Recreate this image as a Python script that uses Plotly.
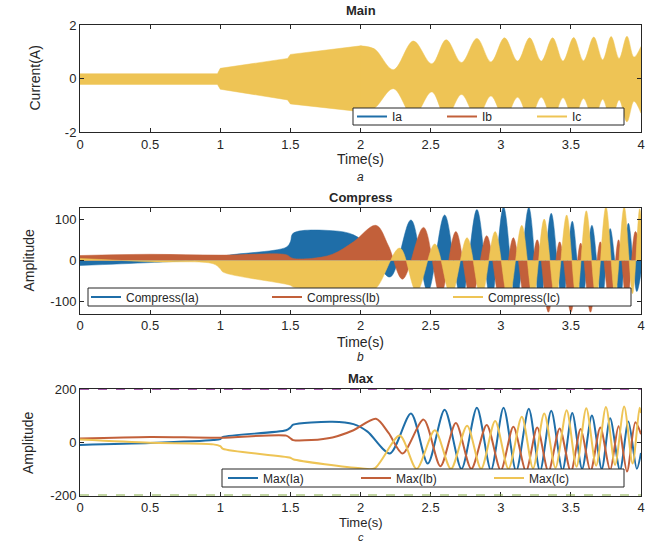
import plotly.graph_objects as go

# ---------------- data ----------------
time_ticks = [0, 0.5, 1, 1.5, 2, 2.5, 3, 3.5, 4]
time_labels = ["0", "0.5", "1", "1.5", "2", "2.5", "3", "3.5", "4"]

# Panel a: envelope of the three phase currents (A)
env_t = [0, 0.98, 1.0, 1.48, 1.5, 2.0, 2.1, 2.234, 2.377, 2.508, 2.611, 2.72, 2.83, 2.93,
         3.027, 3.12, 3.206, 3.289, 3.37, 3.444, 3.52, 3.59, 3.663, 3.727, 3.787, 3.844,
         3.90, 3.95, 4.0]
env_upper = [0.18, 0.18, 0.38, 0.75, 0.9, 1.22, 1.1, 0.33, 1.4, 0.55, 1.45, 0.6, 1.5, 0.62,
             1.52, 0.65, 1.52, 0.65, 1.52, 0.65, 1.53, 0.66, 1.55, 0.7, 1.57, 0.75,
             1.58, 0.8, 1.2]
env_lower = [-0.22, -0.22, -0.4, -0.8, -0.95, -1.24, -1.1, -0.38, -1.42, -0.5, -1.48, -0.6, -1.5, -0.65,
             -1.52, -0.7, -1.52, -0.7, -1.53, -0.72, -1.55, -0.75, -1.57, -0.78, -1.6, -0.8,
             -1.62, -0.85, -1.3]
env_split = 5  # index of t = 2.0 : steady ramp before, beating after

# Phase A time knots and values
ia_t = [0, 0.5, 0.95, 1.0, 1.02, 1.47, 1.5, 1.52, 1.8, 1.95, 2.05, 2.21, 2.36, 2.48, 2.60, 2.72,
        2.83, 2.93, 3.02, 3.11, 3.20, 3.28, 3.36, 3.44, 3.51, 3.58, 3.65, 3.72, 3.78, 3.85,
        3.91, 3.97, 4.0]
max_ia = [-10, -3, 8, 12, 20, 45, 55, 66, 77, 68, 40, -42, 108, -80, 122, -100,
          130, -105, 130, -108, 126, -108, 118, -105, 110, -100, 100, -100, 90, -105,
          78, -100, -40]
comp_ia = [-12, -5, 3, 5, 10, 32, 45, 66, 72, 62, 35, -40, 98, -75, 110, -95,
           123, -100, 129, -105, 128, -108, 114, -105, 95, -100, 85, -100, 77, -95,
           90, -75, -30]

# Phase B
ib_t = [0, 0.5, 1.0, 1.47, 1.5, 1.52, 1.65, 1.8, 1.95, 2.11, 2.20, 2.30, 2.45, 2.57, 2.68,
        2.79, 2.90, 3.00, 3.09, 3.18, 3.26, 3.34, 3.42, 3.50, 3.57, 3.64, 3.71, 3.78, 3.84,
        3.90, 3.96, 4.0]
max_ib = [14, 20, 17, 25, 15, 8, 8, 18, 45, 88, 35, -42, 85, -90, 72,
          -100, 65, -105, 58, -108, 55, -110, 52, -110, 50, -108, 55, -105, 60,
          -110, 75, 30]
comp_ib = [12, 15, 13, 14, 8, 5, 5, 15, 45, 85, 35, -45, 80, -85, 70,
           -95, 60, -105, 55, -110, 50, -125, 45, -125, 42, -125, 45, -110, 50,
           -110, 70, 30]

# Phase C
ic_t = [0, 0.5, 0.95, 1.0, 1.02, 1.5, 1.52, 2.0, 2.1, 2.28, 2.40, 2.53, 2.645, 2.76, 2.86,
        2.96, 3.055, 3.15, 3.23, 3.31, 3.39, 3.47, 3.54, 3.61, 3.68, 3.75, 3.815, 3.88,
        3.94, 3.99, 4.0]
max_ic = [10, -2, -8, -15, -25, -58, -64, -98, -98, 25, -100, 45, -100, 62, -100,
          80, -100, 96, -98, 108, -96, 120, -92, 128, -88, 132, -85, 134,
          -80, 130, 110]
comp_ic = [5, -3, -8, -20, -28, -60, -64, -70, -70, 30, -75, 40, -85, 55, -90,
           70, -95, 85, -95, 100, -95, 110, -95, 120, -90, 130, -85, 130,
           -80, 125, 110]

limit_levels = [200, -200]

# ---------------- style ----------------
BLUE = "#1f6ea8"
ORANGE = "#c2603a"
YELLOW = "#eec455"
PURPLE = "#a25aa8"
GREEN = "#8ab04a"
AX = "#262626"
FONT = "Liberation Sans, Arial, sans-serif"

W, H = 646, 542
ML, MR = 80, 5
PW = W - ML - MR


def px_x(px):
    return (px - ML) / PW


def px_y(py):
    return 1 - py / H


fig = go.Figure()

# Panel a : filled envelope (Ic drawn on top of Ia, Ib)
for lo, hi, shape in [(0, env_split + 2, "linear"), (env_split, len(env_t), "spline")]:
    fig.add_trace(go.Scatter(x=env_t[lo:hi], y=env_lower[lo:hi], mode="lines",
                             line=dict(color=YELLOW, width=0.5, shape=shape),
                             showlegend=False, xaxis="x", yaxis="y", hoverinfo="skip"))
    fig.add_trace(go.Scatter(x=env_t[lo:hi], y=env_upper[lo:hi], mode="lines",
                             fill="tonexty", fillcolor=YELLOW,
                             line=dict(color=YELLOW, width=0.5, shape=shape),
                             showlegend=False, xaxis="x", yaxis="y", hoverinfo="skip"))
for name, col in [("Ia", BLUE), ("Ib", ORANGE), ("Ic", YELLOW)]:
    fig.add_trace(go.Scatter(x=[None], y=[None], mode="lines", name=name,
                             line=dict(color=col, width=2), legend="legend",
                             xaxis="x", yaxis="y"))

# Panel b
for t, v, col in [(ia_t, comp_ia, BLUE), (ib_t, comp_ib, ORANGE), (ic_t, comp_ic, YELLOW)]:
    fig.add_trace(go.Scatter(x=t, y=v, fill="tozeroy", fillcolor=col, mode="lines",
                             line=dict(color=col, width=0.5, shape="spline", smoothing=1.0),
                             showlegend=False, xaxis="x2", yaxis="y2"))
for name, col in [("Compress(Ia)", BLUE), ("Compress(Ib)", ORANGE), ("Compress(Ic)", YELLOW)]:
    fig.add_trace(go.Scatter(x=[None], y=[None], mode="lines", name=name,
                             line=dict(color=col, width=2), legend="legend2",
                             xaxis="x2", yaxis="y2"))

# Panel c
for name, t, v, col in [("Max(Ia)", ia_t, max_ia, BLUE), ("Max(Ib)", ib_t, max_ib, ORANGE),
                        ("Max(Ic)", ic_t, max_ic, YELLOW)]:
    fig.add_trace(go.Scatter(x=t, y=v, mode="lines", name=name,
                             line=dict(color=col, width=2, shape="spline", smoothing=0.8),
                             legend="legend3", xaxis="x3", yaxis="y3"))
fig.add_trace(go.Scatter(x=[time_ticks[0], time_ticks[-1]], y=[limit_levels[0]] * 2, mode="lines",
                         line=dict(color=PURPLE, width=2, dash="dash"), showlegend=False,
                         xaxis="x3", yaxis="y3"))
fig.add_trace(go.Scatter(x=[time_ticks[0], time_ticks[-1]], y=[limit_levels[1]] * 2, mode="lines",
                         line=dict(color=GREEN, width=2, dash="dash"), showlegend=False,
                         xaxis="x3", yaxis="y3"))

# ---------------- axes ----------------
xcommon = dict(range=[0, 4], tickvals=time_ticks, ticktext=time_labels, ticks="inside",
               ticklen=4, tickcolor=AX, mirror="ticks", showline=True, linecolor=AX,
               linewidth=1, showgrid=False, zeroline=False,
               tickfont=dict(family=FONT, size=13, color=AX), domain=[0, 1])
ycommon = dict(ticks="inside", ticklen=4, tickcolor=AX, mirror="ticks", showline=True,
               linecolor=AX, linewidth=1, showgrid=False, zeroline=False,
               tickfont=dict(family=FONT, size=13, color=AX))

panels = [(25, 132), (207.5, 313.5), (389, 495.5)]

fig.update_layout(
    width=W, height=H, margin=dict(l=ML, r=MR, t=0, b=0),
    paper_bgcolor="white", plot_bgcolor="white", template=None,
    xaxis=dict(xcommon, anchor="y"),
    xaxis2=dict(xcommon, anchor="y2"),
    xaxis3=dict(xcommon, anchor="y3", layer="below traces"),
    yaxis=dict(ycommon, anchor="x", range=[-2, 2], tickvals=[-2, 0, 2],
               ticktext=["-2", "0", "2"],
               domain=[px_y(panels[0][1]), px_y(panels[0][0])]),
    yaxis2=dict(ycommon, anchor="x2", range=[-128, 128], tickvals=[-100, 0, 100],
                ticktext=["-100", "0", "100"],
                domain=[px_y(panels[1][1]), px_y(panels[1][0])]),
    yaxis3=dict(ycommon, anchor="x3", range=[-200, 200], tickvals=[-200, 0, 200],
                ticktext=["-200", "0", "200"], layer="below traces",
                domain=[px_y(panels[2][1]), px_y(panels[2][0])]),
)

# legend boxes (frame drawn as shapes so that they are as slim as the reference)
legend_boxes = {"legend": (353, 108, 624, 125), "legend2": (88, 288, 631, 306),
                "legend3": (222, 469, 624, 487)}
entry_widths = {"legend": 45, "legend2": 136, "legend3": 88}
shapes = []
for key, (x0, y0, x1, y1) in legend_boxes.items():
    shapes.append(dict(type="rect", xref="paper", yref="paper", x0=px_x(x0), x1=px_x(x1),
                       y0=px_y(y1), y1=px_y(y0), fillcolor="white",
                       line=dict(color=AX, width=1), layer="above"))
    fig.update_layout({key: dict(orientation="h", bgcolor="rgba(0,0,0,0)", borderwidth=0,
                                 font=dict(family=FONT, size=12, color=AX),
                                 xanchor="right", yanchor="middle", traceorder="normal",
                                 x=px_x(x1 - 2), y=px_y((y0 + y1) / 2),
                                 entrywidthmode="pixels", entrywidth=entry_widths[key])})
fig.update_layout(shapes=shapes)

ann = []
cx = px_x(360.5)
for title, y in [("Main", 11), ("Compress", 197), ("Max", 378)]:
    ann.append(dict(text="<b>%s</b>" % title, x=cx, y=px_y(y), font=dict(size=13)))
for y, fs in [(159, 14), (342, 14), (522.5, 13)]:
    ann.append(dict(text="Time(s)", x=cx, y=px_y(y), font=dict(size=fs)))
for lab, y, fs in [("a", 177, 12), ("b", 357, 12), ("c", 536.5, 11)]:
    ann.append(dict(text="<i>%s</i>" % lab, x=cx, y=px_y(y), font=dict(size=fs)))
for lab, xpx, y in [("Current(A)", 35, 78.5), ("Amplitude", 28, 260.5), ("Amplitude", 28, 443)]:
    ann.append(dict(text=lab, x=px_x(xpx), y=px_y(y), textangle=-90, font=dict(size=14)))
for a in ann:
    a.update(xref="paper", yref="paper", showarrow=False, xanchor="center", yanchor="middle")
    a["font"].update(family=FONT, color=AX)
fig.update_layout(annotations=ann)

fig.write_html("out.html")
